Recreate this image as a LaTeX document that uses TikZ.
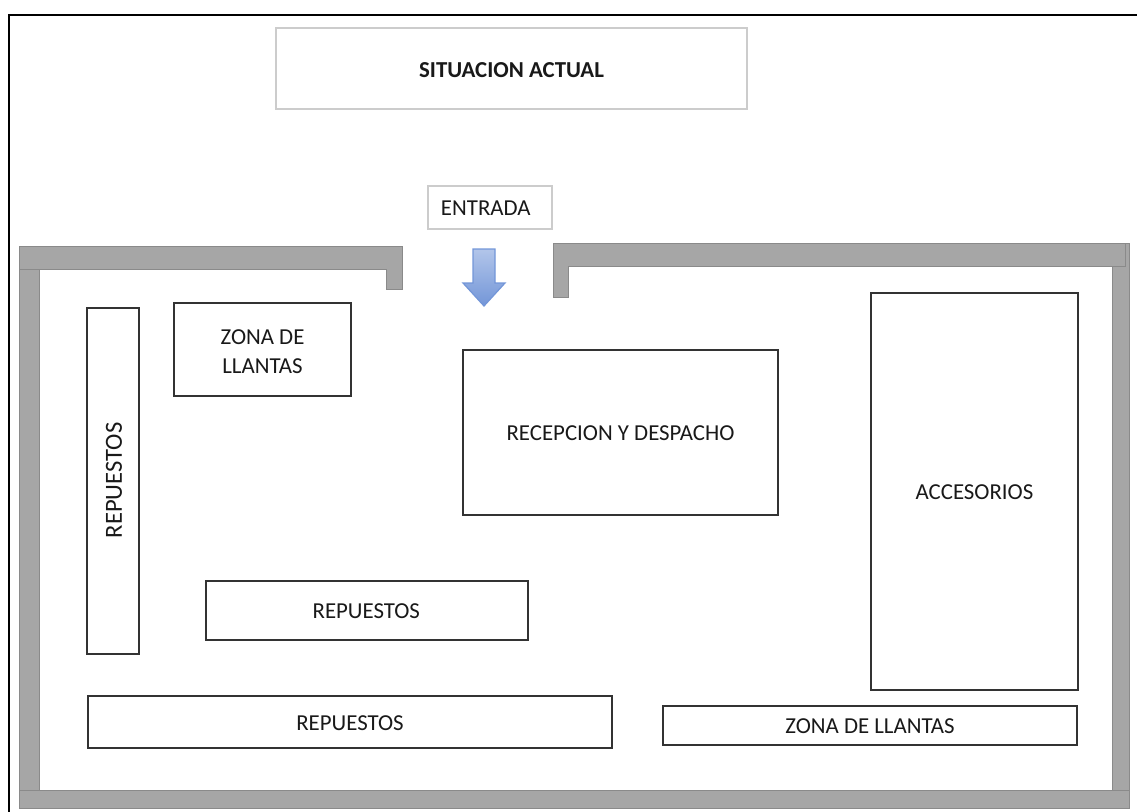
\documentclass[tikz,border=0pt]{standalone}
\usepackage{fontspec}
\setmainfont{Carlito}
\usetikzlibrary{calc,positioning}
\definecolor{muro}{HTML}{A6A6A6}
\definecolor{murob}{HTML}{8A8A8A}
\definecolor{flecha}{HTML}{7396D8}
\tikzset{
  muro/.style={fill=muro,draw=murob,line width=0.5pt},
  zona/.style={draw=black!80,line width=0.65pt,fill=white},
  rotulo/.style={draw=black!20,line width=0.8pt},
  texto/.style={font=\fontsize{13pt}{16pt}\selectfont,text=black!90,align=center,yshift=-0.6pt}
}
\begin{document}
\begin{tikzpicture}[x=0.02cm,y=-0.02cm]
\useasboundingbox (0,0) rectangle (1137,812);

% marco
\draw[line width=1.2pt] (9,812)--(9,15)--(1137,15);

% rotulos
\draw[rotulo] (276,28) rectangle (747,109) node[midway,texto,font=\fontsize{13pt}{16pt}\selectfont\bfseries,yshift=-0.4pt](titulo){SITUACION ACTUAL};
\draw[rotulo] (428,186) rectangle (552,229) node[midway,texto,xshift=-2.4pt](entrada){ENTRADA};

% muros
\draw[muro] (19,269)--(39,269)--(39,808)--(19,808)--cycle;
\draw[muro] (1112,243)--(1129,243)--(1129,808)--(1112,808)--cycle;
\draw[muro] (19,790)--(1129,790)--(1129,808)--(19,808)--cycle;
\draw[muro] (19,246)--(402,246)--(402,289)--(386,289)--(386,269)--(19,269)--cycle;
\draw[muro] (553,243)--(1125,243)--(1125,266)--(568,266)--(568,297)--(553,297)--cycle;

% flecha de entrada
\shade[top color=flecha!55,bottom color=flecha,draw=flecha,line width=0.7pt]
  (473,249)--(495,249)--(495,283)--(505,283)--(484,306)--(463,283)--(473,283)--cycle;

% zonas
\draw[zona] (87,308) rectangle (139,654) node[midway,texto,font=\fontsize{14pt}{16pt}\selectfont,rotate=90,yshift=-0.6pt,xshift=1pt](repuestosa){REPUESTOS};
\draw[zona] (174,303) rectangle (351,396) node[midway,texto,yshift=-0.6pt](llantasa){ZONA DE\\LLANTAS};
\draw[zona] (463,350) rectangle (778,515) node[midway,texto](recepcion){RECEPCION Y DESPACHO};
\draw[zona] (871,293) rectangle (1078,690) node[midway,texto](accesorios){ACCESORIOS};
\draw[zona] (206,581) rectangle (528,640) node[midway,texto,xshift=-0.4pt](repuestosb){REPUESTOS};
\draw[zona] (88,696) rectangle (612,748) node[midway,texto](repuestosc){REPUESTOS};
\draw[zona] (663,706) rectangle (1077,745) node[midway,texto](llantasb){ZONA DE LLANTAS};

\end{tikzpicture}
\end{document}
